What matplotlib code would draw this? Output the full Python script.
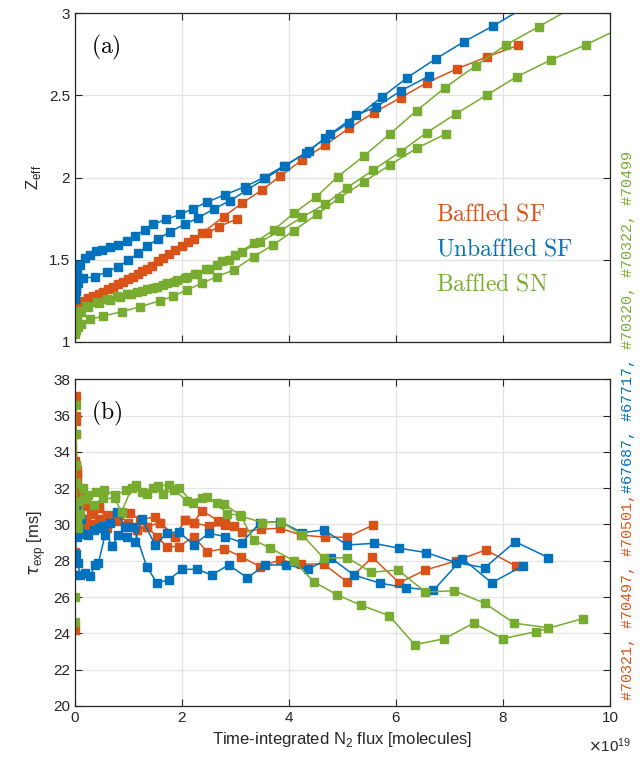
import matplotlib
matplotlib.use('Agg')
import matplotlib.pyplot as plt

plt.rcParams['font.family'] = ['Liberation Sans', 'DejaVu Sans']
plt.rcParams['mathtext.fontset'] = 'dejavusans'

c_or = '#D95319'
c_bl = '#0072BD'
c_gr = '#77AC30'

# ---- panel (a): Z_eff vs integrated N2 flux (x in 1e19 molecules)
zb1_x = [0.0, 0.01, 0.02, 0.04, 0.09, 0.18, 0.28, 0.40, 0.50, 0.65, 0.81, 0.97, 1.12, 1.30, 1.46, 1.70,
         1.97, 2.20, 2.47, 2.80, 3.18, 3.53, 3.90, 4.31, 4.68, 5.12, 5.73, 6.21, 6.74, 7.27, 7.82, 8.37]
zb1_y = [1.28, 1.33, 1.38, 1.42, 1.47, 1.51, 1.53, 1.55, 1.56, 1.575, 1.59, 1.615, 1.645, 1.68, 1.715, 1.745,
         1.775, 1.81, 1.85, 1.895, 1.944, 2.00, 2.07, 2.147, 2.24, 2.334, 2.488, 2.608, 2.722, 2.827, 2.924, 3.03]
zb2_x = [0.0, 0.02, 0.05, 0.155, 0.375, 0.594, 0.81, 1.0, 1.186, 1.343, 1.55, 1.779, 2.05, 2.309, 2.6,
         2.903, 3.215, 3.558, 3.93, 4.369, 4.775, 5.262, 5.618, 6.086, 6.616]
zb2_y = [1.26, 1.31, 1.36, 1.386, 1.396, 1.426, 1.457, 1.497, 1.538, 1.583, 1.625, 1.670, 1.715, 1.755, 1.81,
         1.859, 1.924, 1.995, 2.07, 2.163, 2.265, 2.381, 2.428, 2.527, 2.618]
zo1_x = [0.0, 0.02, 0.06, 0.15, 0.343, 0.53, 0.717, 0.9, 1.09, 1.26, 1.436, 1.65, 1.873, 2.12, 2.373, 2.777,
         3.12, 3.496, 3.84, 4.245, 4.68, 5.12, 5.586, 6.086, 6.573, 7.135, 7.71, 8.283]
zo1_y = [1.15, 1.19, 1.22, 1.245, 1.278, 1.305, 1.335, 1.365, 1.396, 1.43, 1.461, 1.51, 1.558, 1.61, 1.66, 1.761,
         1.843, 1.924, 2.009, 2.107, 2.198, 2.30, 2.395, 2.486, 2.577, 2.661, 2.736, 2.805]
zo2_x = [0.0, 0.03, 0.1, 0.25, 0.45, 0.62, 0.8, 1.0, 1.18, 1.35, 1.55, 1.76, 2.0, 2.23, 2.466, 2.684, 3.028]
zo2_y = [1.13, 1.18, 1.23, 1.265, 1.29, 1.32, 1.35, 1.38, 1.415, 1.445, 1.49, 1.535, 1.585, 1.625, 1.66, 1.70, 1.747]
zg1_x = [0.0, 0.01, 0.03, 0.1, 0.2, 0.406, 0.6, 0.78, 0.97, 1.155, 1.35, 1.53, 1.72, 1.904, 2.09, 2.279, 2.5,
         2.75, 2.996, 3.339, 3.713, 4.088, 4.513, 4.912, 5.40, 5.886, 6.386, 6.916, 7.491, 8.052, 8.665, 9.27]
zg1_y = [1.08, 1.12, 1.16, 1.19, 1.215, 1.244, 1.262, 1.278, 1.29, 1.304, 1.32, 1.335, 1.355, 1.376, 1.395,
         1.412, 1.445, 1.49, 1.528, 1.599, 1.680, 1.782, 1.883, 2.005, 2.131, 2.265, 2.407, 2.547, 2.681, 2.807,
         2.918, 3.03]
zg2_x = [0.0, 0.01, 0.04, 0.12, 0.25, 0.45, 0.65, 0.85, 1.05, 1.25, 1.45, 1.65, 1.85, 2.05, 2.25, 2.45, 2.65,
         2.88, 3.12, 3.464, 3.839, 4.245, 4.68, 5.087, 5.575, 6.086, 6.573, 7.116, 7.697, 8.258, 8.895, 9.551, 10.2]
zg2_y = [1.06, 1.10, 1.14, 1.18, 1.21, 1.235, 1.255, 1.275, 1.29, 1.31, 1.325, 1.345, 1.365, 1.385, 1.41, 1.44,
         1.465, 1.50, 1.548, 1.609, 1.676, 1.758, 1.839, 1.938, 2.046, 2.157, 2.273, 2.387, 2.502, 2.614, 2.716,
         2.809, 2.91]
zg3_x = [0.0, 0.01, 0.05, 0.12, 0.28, 0.53, 0.874, 1.217, 1.592, 1.841, 2.09, 2.373, 2.653, 2.964, 3.339,
         3.702, 4.088, 4.526, 4.931, 5.40, 5.886, 6.386, 6.929]
zg3_y = [1.05, 1.07, 1.09, 1.11, 1.136, 1.157, 1.183, 1.213, 1.25, 1.278, 1.315, 1.356, 1.396, 1.437, 1.518,
         1.589, 1.676, 1.776, 1.873, 1.974, 2.076, 2.178, 2.265]

# ---- panel (b): tau_exp [ms]
tb1_x = [0.0, 0.01, 0.02, 0.05, 0.1, 0.18, 0.28, 0.375, 0.437, 0.56, 0.66, 0.78, 0.94, 1.09, 1.34, 1.53, 1.75,
         2.0, 2.28, 2.56, 2.87, 3.22, 3.56, 3.95, 4.35, 4.78, 5.21, 5.71, 6.18, 6.7, 7.24, 7.79, 8.38]
tb1_y = [27.2, 30.9, 28.4, 27.9, 27.2, 27.3, 27.16, 27.77, 27.86, 29.4, 30.07, 30.7, 29.88, 29.88, 27.68, 26.79,
         26.94, 27.53, 27.53, 27.22, 27.77, 27.07, 27.77, 27.77, 27.53, 28.17, 27.22, 26.76, 26.52, 26.37, 28.12,
         26.79, 27.73]
tb2_x = [0.0, 0.01, 0.02, 0.04, 0.08, 0.12, 0.18, 0.25, 0.35, 0.44, 0.53, 0.69, 0.81, 0.97, 1.12, 1.25, 1.5,
         1.72, 1.94, 2.22, 2.5, 2.81, 3.12, 3.46, 3.84, 4.25, 4.65, 5.09, 5.59, 6.06, 6.57, 7.12, 7.66, 8.23, 8.85]
tb2_y = [28.0, 31.2, 30.4, 29.3, 30.6, 30.3, 29.5, 29.4, 29.7, 29.8, 29.9, 28.8, 29.4, 29.3, 29.05, 30.3, 28.87,
         29.52, 29.6, 28.87, 29.52, 29.33, 29.0, 30.1, 30.15, 29.55, 29.7, 28.87, 28.96, 28.69, 28.45, 27.9, 27.62,
         29.05, 28.17]
to1_x = [0.0, 0.01, 0.02, 0.04, 0.07, 0.12, 0.2, 0.34, 0.44, 0.62, 0.84, 1.03, 1.22, 1.5, 1.59, 1.87, 2.06,
         2.22, 2.37, 2.68, 2.81, 2.97, 3.12, 3.48, 3.83, 4.23, 4.68, 5.09, 5.575]
to1_y = [24.2, 37.1, 35.0, 33.0, 32.0, 31.5, 31.0, 30.8, 30.98, 30.52, 30.65, 30.65, 30.25, 30.43, 30.1, 29.33,
         30.25, 30.1, 30.76, 30.21, 30.1, 29.92, 29.6, 29.74, 29.79, 29.42, 29.3, 29.3, 29.97]
to2_x = [0.0, 0.01, 0.03, 0.06, 0.1, 0.2, 0.3, 0.45, 0.6, 0.8, 1.0, 1.16, 1.34, 1.53, 1.72, 1.94, 2.22, 2.47,
         2.79, 3.1, 3.46, 3.83, 4.23, 4.65, 5.08, 5.56, 6.06, 6.55, 7.12, 7.68, 8.24]
to2_y = [33.5, 35.7, 32.8, 31.0, 30.0, 30.3, 30.6, 30.9, 30.3, 30.5, 30.1, 29.7, 29.88, 29.33, 28.78, 28.78,
         29.33, 28.5, 28.67, 28.23, 27.68, 28.04, 27.82, 27.82, 26.85, 28.19, 26.79, 27.49, 27.99, 28.6, 27.71]
to3_x = [0.0, 0.01, 0.02, 0.04, 0.08, 0.14, 0.22, 0.32, 0.45, 0.6, 0.78, 0.97, 1.16, 1.34, 1.59, 1.87, 2.06,
         2.22, 2.5, 2.8]
to3_y = [28.5, 36.0, 33.3, 32.5, 30.6, 30.2, 29.9, 30.0, 30.3, 29.8, 30.2, 29.9, 29.7, 29.88, 30.1, 29.33,
         30.25, 30.1, 29.9, 29.95]
tg1_x = [0.0, 0.01, 0.02, 0.04, 0.08, 0.15, 0.25, 0.4, 0.55, 0.75, 0.95, 1.15, 1.35, 1.55, 1.75, 1.95, 2.2,
         2.47, 2.65, 2.84, 3.09, 3.34, 3.65, 4.09, 4.46, 4.9, 5.34, 5.87, 6.35, 6.9, 7.45, 8.0, 8.61, 9.49]
tg1_y = [24.6, 36.6, 33.3, 30.2, 31.3, 32.0, 31.6, 31.8, 31.9, 31.6, 31.9, 32.2, 31.7, 32.1, 32.2, 32.0, 31.2,
         31.5, 31.2, 30.6, 30.5, 29.15, 28.7, 28.0, 26.85, 26.12, 25.56, 24.98, 23.38, 23.7, 24.56, 23.71, 24.09,
         24.81]
tg2_x = [0.0, 0.01, 0.02, 0.05, 0.1, 0.2, 0.35, 0.53, 0.74, 0.87, 1.06, 1.25, 1.45, 1.65, 1.85, 2.09, 2.38,
         2.79, 3.1, 3.5, 3.85, 4.25, 4.65, 5.09, 5.54, 6.04, 6.55, 7.09, 7.66, 8.21, 8.85]
tg2_y = [26.0, 35.0, 32.3, 29.8, 30.6, 31.4, 31.1, 31.44, 31.44, 30.7, 32.0, 31.8, 32.0, 31.7, 31.9, 31.31,
         31.45, 31.13, 30.47, 30.1, 30.15, 29.42, 28.14, 28.17, 27.37, 27.49, 26.28, 26.35, 25.66, 24.56, 24.31]

fig = plt.figure(figsize=(6.43, 7.57), dpi=100)
ax1 = fig.add_axes([0.1166, 0.5486, 0.832, 0.4338])
ax2 = fig.add_axes([0.1166, 0.0674, 0.832, 0.4316])

kw = dict(marker='s', ms=5.5, lw=1.1)
for x, y, c in [(zo1_x, zo1_y, c_or), (zo2_x, zo2_y, c_or), (zb1_x, zb1_y, c_bl), (zb2_x, zb2_y, c_bl),
                (zg1_x, zg1_y, c_gr), (zg2_x, zg2_y, c_gr), (zg3_x, zg3_y, c_gr)]:
    ax1.plot(x, y, color=c, **kw)
for x, y, c in [(to1_x, to1_y, c_or), (to2_x, to2_y, c_or), (to3_x, to3_y, c_or), (tb1_x, tb1_y, c_bl),
                (tb2_x, tb2_y, c_bl), (tg1_x, tg1_y, c_gr), (tg2_x, tg2_y, c_gr)]:
    ax2.plot(x, y, color=c, **kw)

for ax in (ax1, ax2):
    ax.set_xlim(0, 10)
    ax.set_xticks([0, 2, 4, 6, 8, 10])
    ax.grid(True, color='#e3e3e3', lw=0.9)
    ax.set_axisbelow(True)
    ax.tick_params(direction='in', top=True, right=True, labelsize=11, colors='#262626', length=5)
    for s in ax.spines.values():
        s.set_color('#262626')
        s.set_linewidth(0.9)

ax1.set_ylim(1, 3)
ax1.set_yticks([1, 1.5, 2, 2.5, 3])
ax1.set_yticklabels(['1', '1.5', '2', '2.5', '3'])
ax1.set_xticklabels([])
ax1.set_ylabel(r'Z$_\mathregular{eff}$', fontsize=12, color='#262626')

ax2.set_ylim(20, 38)
ax2.set_yticks(range(20, 39, 2))
ax2.set_ylabel(r'$\tau_\mathregular{exp}$ [ms]', fontsize=12, color='#262626')
ax2.set_xlabel(r'Time-integrated N$_\mathregular{2}$ flux [molecules]', fontsize=12, color='#262626')
fig.text(0.915, 0.006, r'$\times\mathregular{10^{19}}$', fontsize=11, color='#262626')

ax1.text(0.03, 0.94, r'$\mathrm{(a)}$', transform=ax1.transAxes, fontsize=17, va='top', math_fontfamily='cm')
ax2.text(0.03, 0.94, r'$\mathrm{(b)}$', transform=ax2.transAxes, fontsize=17, va='top', math_fontfamily='cm')

for i, (lab, c) in enumerate([('Baffled\\ SF', c_or), ('Unbaffled\\ SF', c_bl), ('Baffled\\ SN', c_gr)]):
    ax1.text(6.75, 1.772 - i * 0.213, r'$\mathrm{' + lab + '}$', color=c, fontsize=17,
             va='center', math_fontfamily='cm')

# shot numbers written vertically along the right edge
fig.canvas.draw()
r = fig.canvas.get_renderer()
y0 = 1 - 700 / 757
for s, c in [('#70321, #70497, #70501,', c_or), ('#67687, #67717,', c_bl), (' #70320, #70322, #70499', c_gr)]:
    t = fig.text(0.977, y0, s, rotation=90, color=c, fontsize=10.8, ha='center', va='bottom',
                 family='Liberation Mono')
    bb = t.get_window_extent(r).transformed(fig.transFigure.inverted())
    y0 = bb.y1

fig.savefig('out.png', dpi=100)
